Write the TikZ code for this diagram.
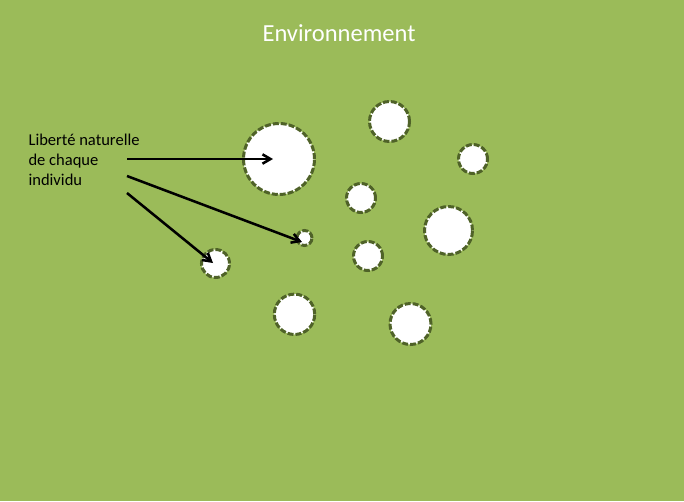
\documentclass[tikz,border=0pt]{standalone}
\usepackage{fontspec}
\setmainfont{Carlito}
\usetikzlibrary{arrows.meta}
\usetikzlibrary{calc}
\definecolor{envgreen}{HTML}{9BBB59}
\definecolor{rimgreen}{HTML}{4F6228}
\tikzset{zone/.style={draw=rimgreen,fill=white,circle,line width=2.25pt,dash pattern=on 4.5pt off 1.5pt,minimum size=#1*1.5pt}}

\begin{document}
\begin{tikzpicture}[x=0.75pt,y=-0.75pt,inner sep=0pt,>={Straight Barb[length=6pt,width=7pt]}]
\fill [envgreen] (0,0) rectangle (684,501);
\path [use as bounding box] (0,0) rectangle (684,501);
\draw node [text=white,anchor=base,font=\fontsize{18.4pt}{22pt}\selectfont] (T) at (339,41) {Environnement};
\draw node [anchor=base west,align=left,font=\fontsize{12.4pt}{14.8pt}\selectfont] (L) at (28.3,185.1) {Liberté naturelle\\de chaque\\individu};
\draw node [zone=35.5] (C1) at (279,159) {};
\draw node [zone=7.5] (C2) at (304.5,238) {};
\draw node [zone=14] (C3) at (215.5,263.5) {};
\draw node [zone=20] (C4) at (389.5,121.5) {};
\draw node [zone=14.5] (C5) at (473,159) {};
\draw node [zone=14.5] (C6) at (361,198) {};
\draw node [zone=24] (C7) at (448.5,230.5) {};
\draw node [zone=14.5] (C8) at (368,256) {};
\draw node [zone=20.5] (C9) at (410.5,324) {};
\draw node [zone=20.2] (C10) at (294.5,314.3) {};
\coordinate (S1) at (127,159);
\coordinate (S2) at (127,176);
\coordinate (S3) at (127,193);
\draw [->,line width=1.9pt] (S1) -- ($ (C1.center) + (-6,0) $);
\draw [->,line width=1.9pt] (S2) -- ($ (C2.center) + (-2.5,4) $);
\draw [->,line width=1.9pt] (S3) -- ($ (C3.center) + (-2.5,-0.5) $);
\end{tikzpicture}
\end{document}
